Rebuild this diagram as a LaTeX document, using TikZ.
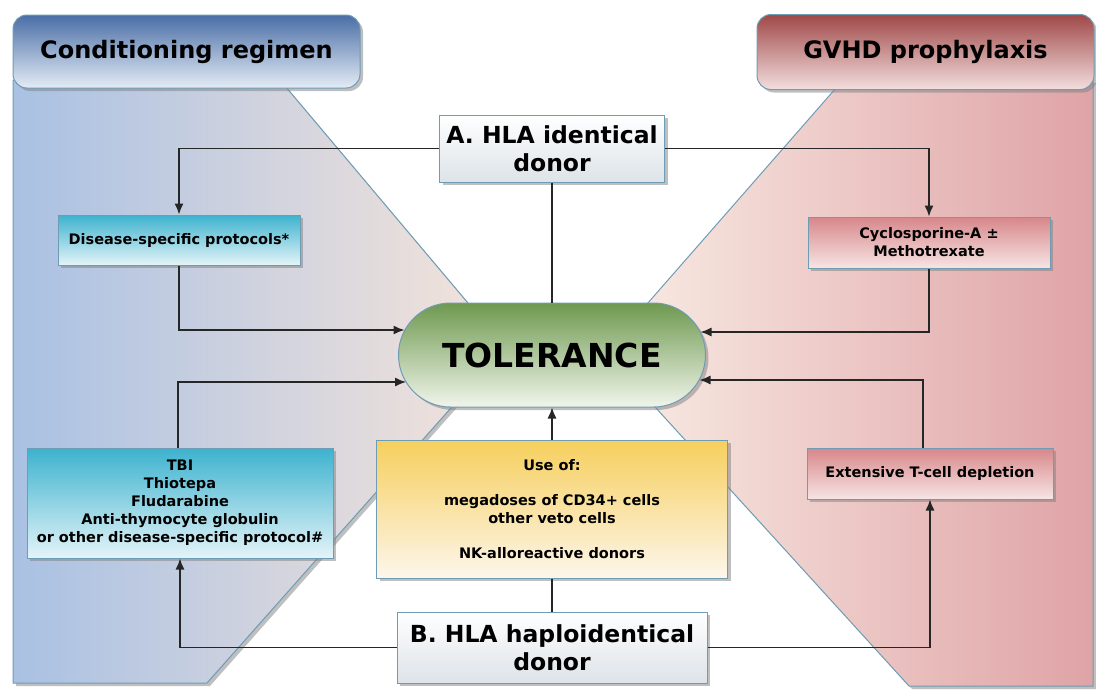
\documentclass[tikz,border=0pt]{standalone}
\usepackage{fontspec}
\setmainfont{DejaVu Sans}
\usetikzlibrary{arrows.meta,shadows,calc}
\definecolor{edgeblue}{HTML}{6E9CB4}
\definecolor{leftA}{HTML}{A9C1E3}
\definecolor{leftB}{HTML}{F6E4DA}
\definecolor{rightA}{HTML}{F9EDE5}
\definecolor{rightB}{HTML}{DFA3A6}
\definecolor{hdrLtop}{HTML}{4A6EA6}
\definecolor{hdrLbot}{HTML}{E4ECF5}
\definecolor{hdrRtop}{HTML}{A04848}
\definecolor{hdrRbot}{HTML}{F3DEDE}
\definecolor{tolTop}{HTML}{6E9950}
\definecolor{tolBot}{HTML}{F1F5EB}
\definecolor{cyanTop}{HTML}{3DB2CE}
\definecolor{cyanBot}{HTML}{E3F4F8}
\definecolor{pinkTop}{HTML}{D7878A}
\definecolor{pinkBot}{HTML}{F7E4E4}
\definecolor{yelTop}{HTML}{F6CF5C}
\definecolor{yelBot}{HTML}{FDF6EC}
\definecolor{greyBot}{HTML}{DDE3E8}
\begin{document}
\begin{tikzpicture}[x=1pt,y=-1pt,
  conn/.style={line width=1.3pt, draw=black!85},
  arr/.style={conn,-{Latex[length=11pt,width=9pt]}},
  shad/.style={drop shadow={opacity=0.5,shadow xshift=3pt,shadow yshift=-3pt}},
  box/.style={draw=edgeblue, line width=1pt, inner sep=0pt, align=center, shad,
    font=\fontsize{14.5}{18}\selectfont\bfseries},
  cyanbox/.style={box, top color=cyanTop, bottom color=cyanBot},
  pinkbox/.style={box, top color=pinkTop, bottom color=pinkBot},
  yelbox/.style={box, top color=yelTop, bottom color=yelBot},
  donorbox/.style={box, top color=white, bottom color=greyBot,
    font=\fontsize{23.5}{28}\selectfont\bfseries},
  header/.style={draw=edgeblue, line width=1pt, rounded corners=14pt, inner sep=0pt, shad,
    font=\fontsize{24}{28}\selectfont\bfseries},
  bgshape/.style={draw=edgeblue, line width=1pt, shad}
]
\path[fill=white] (0,0) rectangle (1096,689);
\useasboundingbox (0,0) rectangle (1096,689);

% background shapes
\path[bgshape, left color=leftA, right color=leftB]
  (13,80) -- (280,80) -- (505,347) -- (207,683) -- (13,683) -- cycle;
\path[bgshape, left color=rightA, right color=rightB]
  (1093,80) -- (843,80) -- (605,352) -- (909,686) -- (1093,686) -- cycle;

% headers
\node[header, top color=hdrLtop, bottom color=hdrLbot, minimum width=347pt, minimum height=73pt]
  (hdrL) at (186.5,51.5) {Conditioning regimen};
\node[header, top color=hdrRtop, bottom color=hdrRbot, minimum width=337pt, minimum height=75pt]
  (hdrR) at (925.5,52) {GVHD prophylaxis};

% donor boxes
\node[donorbox, minimum width=225pt, minimum height=67pt] (A) at (552,148.5) {A. HLA identical\\donor};
\node[donorbox, minimum width=310pt, minimum height=71pt] (B) at (552,647.5) {B. HLA haploidentical\\donor};

% tolerance
\node[draw=edgeblue, line width=1pt, rounded corners=52pt, top color=tolTop, bottom color=tolBot,
  minimum width=307pt, minimum height=104pt, inner sep=0pt, shad,
  font=\fontsize{33}{36}\selectfont\bfseries] (tol) at (552,355) {TOLERANCE};

% regimen boxes
\node[cyanbox, minimum width=242pt, minimum height=50pt] (dis) at (179,240) {Disease-specific protocols*};
\node[pinkbox, minimum width=242pt, minimum height=51pt] (cyc) at (929,242.5) {Cyclosporine-A ±\\Methotrexate};
\node[cyanbox, minimum width=306pt, minimum height=110pt] (tbi) at (180,503)
  {TBI\\Thiotepa\\Fludarabine\\Anti-thymocyte globulin\\or other disease-specific protocol\#};
\node[yelbox, minimum width=351pt, minimum height=138pt] (yel) at (552,509)
  {Use of:\\[17pt]megadoses of CD34+ cells\\other veto cells\\[17pt]NK-alloreactive donors};
\node[pinkbox, minimum width=246pt, minimum height=51pt] (ext) at (930,473.5) {Extensive T-cell depletion};

% arrow tips on the tolerance border
\coordinate (tl1) at (404.5,330);
\coordinate (tl2) at (406,382);
\coordinate (tr1) at (700.5,332);
\coordinate (tr2) at (699.5,380);

% connectors
\draw[arr] (A.west) -| (dis.north);
\draw[arr] (A.east) -| (cyc.north);
\draw[conn] (A.south) -- (tol.north);
\draw[arr] (dis.south) |- (tl1);
\draw[arr] ([xshift=-2pt]tbi.north) |- (tl2);
\draw[arr] (cyc.south) |- (tr1);
\draw[arr] ([xshift=-7pt]ext.north) |- (tr2);
\draw[arr] (yel.north) -- (tol.south);
\draw[conn] (yel.south) -- (B.north);
\draw[arr] (B.west) -| (tbi.south);
\draw[arr] (B.east) -| (ext.south);
\end{tikzpicture}
\end{document}
